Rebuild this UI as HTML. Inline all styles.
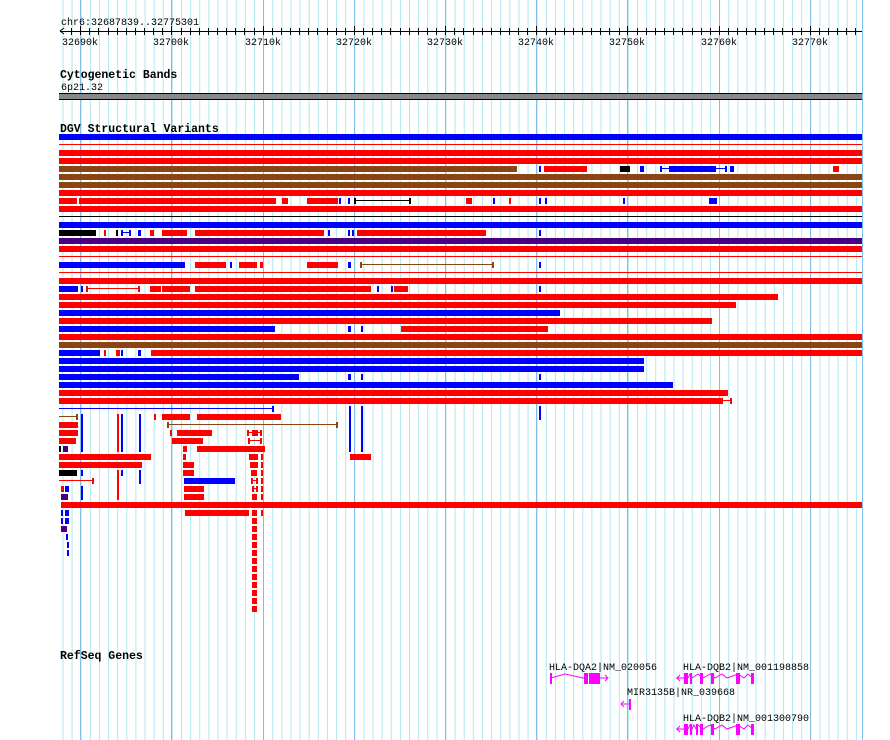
<!DOCTYPE html>
<html><head><meta charset="utf-8"><style>
body{margin:0;background:#fff;}
svg{display:block;}
text{font-family:"Liberation Mono",monospace;font-size:10px;fill:#000;}
.b{font-weight:bold;font-size:11.5px;}
</style></head><body>
<svg width="890" height="740" xmlns="http://www.w3.org/2000/svg">
<defs><pattern id="g" x="62.46" y="0" width="9.12" height="740" patternUnits="userSpaceOnUse"><rect x="0" y="0" width="1" height="740" fill="#b0e8f0"/></pattern></defs>
<rect x="59" y="0" width="804" height="740" fill="url(#g)"/>
<g fill="#80c0e8">
<rect x="80" y="0" width="1" height="740"/><rect x="171" y="0" width="1" height="740"/><rect x="263" y="0" width="1" height="740"/><rect x="354" y="0" width="1" height="740"/><rect x="445" y="0" width="1" height="740"/><rect x="536" y="0" width="1" height="740"/><rect x="627" y="0" width="1" height="740"/><rect x="719" y="0" width="1" height="740"/><rect x="810" y="0" width="1" height="740"/><rect x="862" y="0" width="1" height="740"/>
</g>
<!-- ruler -->
<text x="61" y="25">chr6:32687839..32775301</text>
<rect x="60" y="31" width="802" height="1" fill="#000"/>
<path d="M60 31 L64 28 M60 31 L64 34" stroke="#000" fill="none"/>
<g fill="#000">
<rect x="71" y="28" width="1" height="7"/><rect x="80" y="26" width="1" height="9"/><rect x="89" y="28" width="1" height="7"/><rect x="98" y="28" width="1" height="7"/><rect x="108" y="28" width="1" height="7"/><rect x="117" y="28" width="1" height="7"/><rect x="126" y="28" width="1" height="7"/><rect x="135" y="28" width="1" height="7"/><rect x="144" y="28" width="1" height="7"/><rect x="153" y="28" width="1" height="7"/><rect x="162" y="28" width="1" height="7"/><rect x="171" y="26" width="1" height="9"/><rect x="181" y="28" width="1" height="7"/><rect x="190" y="28" width="1" height="7"/><rect x="199" y="28" width="1" height="7"/><rect x="208" y="28" width="1" height="7"/><rect x="217" y="28" width="1" height="7"/><rect x="226" y="28" width="1" height="7"/><rect x="235" y="28" width="1" height="7"/><rect x="244" y="28" width="1" height="7"/><rect x="254" y="28" width="1" height="7"/><rect x="263" y="26" width="1" height="9"/><rect x="272" y="28" width="1" height="7"/><rect x="281" y="28" width="1" height="7"/><rect x="290" y="28" width="1" height="7"/><rect x="299" y="28" width="1" height="7"/><rect x="308" y="28" width="1" height="7"/><rect x="317" y="28" width="1" height="7"/><rect x="327" y="28" width="1" height="7"/><rect x="336" y="28" width="1" height="7"/><rect x="345" y="28" width="1" height="7"/><rect x="354" y="26" width="1" height="9"/><rect x="363" y="28" width="1" height="7"/><rect x="372" y="28" width="1" height="7"/><rect x="381" y="28" width="1" height="7"/><rect x="390" y="28" width="1" height="7"/><rect x="400" y="28" width="1" height="7"/><rect x="409" y="28" width="1" height="7"/><rect x="418" y="28" width="1" height="7"/><rect x="427" y="28" width="1" height="7"/><rect x="436" y="28" width="1" height="7"/><rect x="445" y="26" width="1" height="9"/><rect x="454" y="28" width="1" height="7"/><rect x="463" y="28" width="1" height="7"/><rect x="473" y="28" width="1" height="7"/><rect x="482" y="28" width="1" height="7"/><rect x="491" y="28" width="1" height="7"/><rect x="500" y="28" width="1" height="7"/><rect x="509" y="28" width="1" height="7"/><rect x="518" y="28" width="1" height="7"/><rect x="527" y="28" width="1" height="7"/><rect x="536" y="26" width="1" height="9"/><rect x="546" y="28" width="1" height="7"/><rect x="555" y="28" width="1" height="7"/><rect x="564" y="28" width="1" height="7"/><rect x="573" y="28" width="1" height="7"/><rect x="582" y="28" width="1" height="7"/><rect x="591" y="28" width="1" height="7"/><rect x="600" y="28" width="1" height="7"/><rect x="609" y="28" width="1" height="7"/><rect x="619" y="28" width="1" height="7"/><rect x="627" y="26" width="1" height="9"/><rect x="637" y="28" width="1" height="7"/><rect x="646" y="28" width="1" height="7"/><rect x="655" y="28" width="1" height="7"/><rect x="664" y="28" width="1" height="7"/><rect x="673" y="28" width="1" height="7"/><rect x="682" y="28" width="1" height="7"/><rect x="692" y="28" width="1" height="7"/><rect x="701" y="28" width="1" height="7"/><rect x="710" y="28" width="1" height="7"/><rect x="719" y="26" width="1" height="9"/><rect x="728" y="28" width="1" height="7"/><rect x="737" y="28" width="1" height="7"/><rect x="746" y="28" width="1" height="7"/><rect x="755" y="28" width="1" height="7"/><rect x="764" y="28" width="1" height="7"/><rect x="773" y="28" width="1" height="7"/><rect x="782" y="28" width="1" height="7"/><rect x="792" y="28" width="1" height="7"/><rect x="801" y="28" width="1" height="7"/><rect x="810" y="26" width="1" height="9"/><rect x="819" y="28" width="1" height="7"/><rect x="828" y="28" width="1" height="7"/><rect x="837" y="28" width="1" height="7"/><rect x="846" y="28" width="1" height="7"/><rect x="855" y="28" width="1" height="7"/>
</g>
<g text-anchor="middle">
<text x="80" y="45">32690k</text><text x="171" y="45">32700k</text><text x="263" y="45">32710k</text><text x="354" y="45">32720k</text><text x="445" y="45">32730k</text><text x="536" y="45">32740k</text><text x="627" y="45">32750k</text><text x="719" y="45">32760k</text><text x="810" y="45">32770k</text>
</g>
<!-- cyto -->
<text class="b" x="60" y="78">Cytogenetic Bands</text>
<text x="61" y="90">6p21.32</text>
<rect x="59" y="93" width="803" height="7" fill="#888"/>
<rect x="59" y="93" width="803" height="1" fill="#000"/><rect x="59" y="99" width="803" height="1" fill="#000"/>
<text class="b" x="60" y="132">DGV Structural Variants</text>
<!-- rows -->
<g>
<rect x="59" y="134" width="803" height="6" fill="#00f"/>
<rect x="59" y="144" width="803" height="1" fill="#f00"/>
<rect x="59" y="150" width="803" height="6" fill="#f00"/>
<rect x="59" y="158" width="803" height="6" fill="#f00"/>
<rect x="59" y="166" width="458" height="6" fill="#8b4513"/>
<rect x="539" y="166" width="2" height="6" fill="#00f"/><rect x="544" y="166" width="43" height="6" fill="#f00"/><rect x="620" y="166" width="10" height="6" fill="#000"/><rect x="640" y="166" width="4" height="6" fill="#00f"/><rect x="660" y="166" width="2" height="6" fill="#00f"/><rect x="660" y="168" width="66" height="1" fill="#00f"/><rect x="669" y="166" width="47" height="6" fill="#00f"/><rect x="725" y="166" width="2" height="6" fill="#00f"/><rect x="730" y="166" width="4" height="6" fill="#00f"/><rect x="833" y="166" width="6" height="6" fill="#f00"/>
<rect x="59" y="174" width="803" height="6" fill="#8b4513"/>
<rect x="59" y="182" width="803" height="6" fill="#8b4513"/>
<rect x="59" y="190" width="803" height="6" fill="#f00"/>
<rect x="59" y="198" width="18" height="6" fill="#f00"/><rect x="79" y="198" width="197" height="6" fill="#f00"/><rect x="282" y="198" width="6" height="6" fill="#f00"/><rect x="307" y="198" width="31" height="6" fill="#f00"/><rect x="339" y="198" width="2" height="6" fill="#00f"/><rect x="348" y="198" width="2" height="6" fill="#00f"/><rect x="354" y="198" width="2" height="6" fill="#000"/><rect x="354" y="200" width="56" height="1" fill="#000"/><rect x="409" y="198" width="2" height="6" fill="#000"/><rect x="466" y="198" width="6" height="6" fill="#f00"/><rect x="493" y="198" width="2" height="6" fill="#00f"/><rect x="509" y="198" width="2" height="6" fill="#f00"/><rect x="539" y="198" width="2" height="6" fill="#00f"/><rect x="545" y="198" width="2" height="6" fill="#00f"/><rect x="623" y="198" width="2" height="6" fill="#00f"/><rect x="709" y="198" width="8" height="6" fill="#00f"/>
<rect x="59" y="206" width="803" height="6" fill="#f00"/>
<rect x="59" y="216" width="803" height="1" fill="#000"/>
<rect x="59" y="222" width="803" height="6" fill="#00f"/>
<rect x="59" y="230" width="37" height="6" fill="#000"/><rect x="104" y="230" width="2" height="6" fill="#f00"/><rect x="116" y="230" width="2" height="6" fill="#000"/><rect x="121" y="230" width="2" height="6" fill="#00f"/><rect x="121" y="232" width="10" height="1" fill="#00f"/><rect x="129" y="230" width="2" height="6" fill="#00f"/><rect x="138" y="230" width="3" height="6" fill="#00f"/><rect x="150" y="230" width="4" height="6" fill="#f00"/><rect x="162" y="230" width="25" height="6" fill="#f00"/><rect x="195" y="230" width="129" height="6" fill="#f00"/><rect x="328" y="230" width="2" height="6" fill="#00f"/><rect x="348" y="230" width="2" height="6" fill="#00f"/><rect x="352" y="230" width="2" height="6" fill="#00f"/><rect x="357" y="230" width="129" height="6" fill="#f00"/><rect x="539" y="230" width="2" height="6" fill="#00f"/>
<rect x="59" y="238" width="803" height="6" fill="#4b0082"/>
<rect x="59" y="246" width="803" height="6" fill="#f00"/>
<rect x="59" y="256" width="803" height="1" fill="#f00"/>
<rect x="59" y="262" width="126" height="6" fill="#00f"/><rect x="195" y="262" width="31" height="6" fill="#f00"/><rect x="230" y="262" width="2" height="6" fill="#00f"/><rect x="239" y="262" width="18" height="6" fill="#f00"/><rect x="260" y="262" width="3" height="6" fill="#f00"/><rect x="307" y="262" width="31" height="6" fill="#f00"/><rect x="348" y="262" width="3" height="6" fill="#00f"/><rect x="360" y="262" width="2" height="6" fill="#8b4513"/><rect x="360" y="264" width="133" height="1" fill="#8b4513"/><rect x="492" y="262" width="2" height="6" fill="#8b4513"/><rect x="539" y="262" width="2" height="6" fill="#00f"/>
<rect x="59" y="272" width="803" height="1" fill="#f00"/>
<rect x="59" y="278" width="803" height="6" fill="#f00"/>
<rect x="59" y="286" width="19" height="6" fill="#00f"/><rect x="81" y="286" width="2" height="6" fill="#00f"/><rect x="86" y="286" width="2" height="6" fill="#f00"/><rect x="86" y="288" width="53" height="1" fill="#f00"/><rect x="138" y="286" width="2" height="6" fill="#f00"/><rect x="150" y="286" width="11" height="6" fill="#f00"/><rect x="162" y="286" width="28" height="6" fill="#f00"/><rect x="195" y="286" width="176" height="6" fill="#f00"/><rect x="377" y="286" width="2" height="6" fill="#00f"/><rect x="391" y="286" width="2" height="6" fill="#00f"/><rect x="394" y="286" width="14" height="6" fill="#f00"/><rect x="539" y="286" width="2" height="6" fill="#00f"/>
<rect x="59" y="294" width="719" height="6" fill="#f00"/>
<rect x="59" y="302" width="677" height="6" fill="#f00"/>
<rect x="59" y="310" width="501" height="6" fill="#00f"/>
<rect x="59" y="318" width="653" height="6" fill="#f00"/>
<rect x="59" y="326" width="216" height="6" fill="#00f"/><rect x="348" y="326" width="3" height="6" fill="#00f"/><rect x="361" y="326" width="2" height="6" fill="#00f"/><rect x="401" y="326" width="147" height="6" fill="#f00"/>
<rect x="59" y="334" width="803" height="6" fill="#f00"/>
<rect x="59" y="342" width="803" height="6" fill="#8b4513"/>
<rect x="59" y="350" width="41" height="6" fill="#00f"/><rect x="104" y="350" width="2" height="6" fill="#f00"/><rect x="116" y="350" width="4" height="6" fill="#f00"/><rect x="121" y="350" width="2" height="6" fill="#00f"/><rect x="138" y="350" width="3" height="6" fill="#00f"/><rect x="151" y="350" width="711" height="6" fill="#f00"/>
<rect x="59" y="358" width="585" height="6" fill="#00f"/>
<rect x="59" y="366" width="585" height="6" fill="#00f"/>
<rect x="59" y="374" width="240" height="6" fill="#00f"/><rect x="348" y="374" width="3" height="6" fill="#00f"/><rect x="361" y="374" width="2" height="6" fill="#00f"/><rect x="539" y="374" width="2" height="6" fill="#00f"/>
<rect x="59" y="382" width="614" height="6" fill="#00f"/>
<rect x="59" y="390" width="669" height="6" fill="#f00"/>
<rect x="59" y="398" width="664" height="6" fill="#f00"/><rect x="722" y="400" width="9" height="1" fill="#f00"/><rect x="730" y="398" width="2" height="6" fill="#f00"/>
<rect x="59" y="408" width="213" height="1" fill="#00f"/><rect x="272" y="406" width="2" height="6" fill="#00f"/>
<rect x="539" y="406" width="2" height="14" fill="#00f"/>
<rect x="349" y="406" width="2" height="46" fill="#00f"/><rect x="361" y="406" width="2" height="46" fill="#00f"/>
</g>
<g>
<!-- r35 414 -->
<rect x="59" y="416" width="18" height="1" fill="#8b4513"/><rect x="76" y="414" width="2" height="6" fill="#8b4513"/>
<rect x="154" y="414" width="2" height="6" fill="#f00"/><rect x="162" y="414" width="28" height="6" fill="#f00"/><rect x="197" y="414" width="84" height="6" fill="#f00"/>
<!-- columns -->
<rect x="81" y="414" width="2" height="38" fill="#00f"/><rect x="81" y="470" width="2" height="6" fill="#00f"/><rect x="81" y="486" width="2" height="14" fill="#00f"/>
<rect x="117" y="414" width="2" height="38" fill="#f00"/><rect x="117" y="470" width="2" height="30" fill="#f00"/>
<rect x="121" y="414" width="2" height="38" fill="#00f"/><rect x="121" y="470" width="2" height="6" fill="#00f"/>
<rect x="139" y="414" width="2" height="38" fill="#00f"/><rect x="139" y="470" width="2" height="14" fill="#00f"/>
<!-- r36 422 -->
<rect x="59" y="422" width="19" height="6" fill="#f00"/><rect x="167" y="424" width="170" height="1" fill="#8b4513"/><rect x="167" y="422" width="2" height="6" fill="#8b4513"/><rect x="336" y="422" width="2" height="6" fill="#8b4513"/>
<!-- r37 430 -->
<rect x="59" y="430" width="19" height="6" fill="#f00"/><rect x="170" y="430" width="2" height="6" fill="#f00"/><rect x="177" y="430" width="35" height="6" fill="#f00"/><rect x="247" y="430" width="2" height="6" fill="#f00"/><rect x="249" y="432" width="11" height="1" fill="#f00"/><rect x="252" y="430" width="6" height="6" fill="#f00"/><rect x="260" y="430" width="2" height="6" fill="#f00"/>
<!-- r38 438 -->
<rect x="59" y="438" width="17" height="6" fill="#f00"/><rect x="172" y="438" width="31" height="6" fill="#f00"/><rect x="248" y="438" width="2" height="6" fill="#f00"/><rect x="248" y="440" width="13" height="1" fill="#f00"/><rect x="260" y="438" width="2" height="6" fill="#f00"/>
<!-- r39 446 -->
<rect x="59" y="446" width="2" height="6" fill="#000"/><rect x="63" y="446" width="5" height="6" fill="#4b0082"/><rect x="183" y="446" width="4" height="6" fill="#f00"/><rect x="197" y="446" width="68" height="6" fill="#f00"/>
<!-- r40 454 -->
<rect x="59" y="454" width="92" height="6" fill="#f00"/><rect x="183" y="454" width="3" height="6" fill="#f00"/><rect x="249" y="454" width="9" height="6" fill="#f00"/><rect x="261" y="454" width="2" height="6" fill="#f00"/><rect x="350" y="454" width="21" height="6" fill="#f00"/>
<!-- r41 462 -->
<rect x="59" y="462" width="83" height="6" fill="#f00"/><rect x="183" y="462" width="11" height="6" fill="#f00"/><rect x="250" y="462" width="8" height="6" fill="#f00"/><rect x="261" y="462" width="2" height="6" fill="#f00"/>
<!-- r42 470 -->
<rect x="59" y="470" width="18" height="6" fill="#000"/><rect x="183" y="470" width="11" height="6" fill="#f00"/><rect x="251" y="470" width="6" height="6" fill="#f00"/><rect x="261" y="470" width="2" height="6" fill="#f00"/>
<!-- r43 478 -->
<rect x="59" y="480" width="34" height="1" fill="#f00"/><rect x="92" y="478" width="2" height="6" fill="#f00"/><rect x="184" y="478" width="51" height="6" fill="#00f"/><rect x="251" y="478" width="2" height="6" fill="#f00"/><rect x="251" y="480" width="7" height="1" fill="#f00"/><rect x="256" y="478" width="2" height="6" fill="#f00"/><rect x="261" y="478" width="2" height="6" fill="#f00"/>
<!-- r44 486 -->
<rect x="61" y="486" width="3" height="6" fill="#f00"/><rect x="65" y="486" width="4" height="6" fill="#00f"/><rect x="184" y="486" width="20" height="6" fill="#f00"/><rect x="252" y="486" width="2" height="6" fill="#f00"/><rect x="252" y="488" width="6" height="1" fill="#f00"/><rect x="256" y="486" width="2" height="6" fill="#f00"/><rect x="261" y="486" width="2" height="6" fill="#f00"/>
<!-- r45 494 -->
<rect x="61" y="494" width="7" height="6" fill="#4b0082"/><rect x="184" y="494" width="20" height="6" fill="#f00"/><rect x="252" y="494" width="5" height="6" fill="#f00"/><rect x="261" y="494" width="2" height="6" fill="#f00"/>
<!-- r46 502 -->
<rect x="61" y="502" width="801" height="6" fill="#f00"/>
<!-- r47 510 -->
<rect x="61" y="510" width="2" height="6" fill="#00f"/><rect x="65" y="510" width="4" height="6" fill="#00f"/><rect x="185" y="510" width="64" height="6" fill="#f00"/><rect x="261" y="510" width="2" height="6" fill="#f00"/>
<rect x="61" y="518" width="2" height="6" fill="#00f"/><rect x="65" y="518" width="4" height="6" fill="#00f"/>
<rect x="61" y="526" width="6" height="6" fill="#4b0082"/>
<rect x="66" y="534" width="2" height="6" fill="#00f"/><rect x="67" y="542" width="2" height="6" fill="#00f"/><rect x="67" y="550" width="2" height="6" fill="#00f"/>
<!-- column 252 -->
<rect x="252" y="510" width="5" height="6" fill="#f00"/><rect x="252" y="518" width="5" height="6" fill="#f00"/><rect x="252" y="526" width="5" height="6" fill="#f00"/><rect x="252" y="534" width="5" height="6" fill="#f00"/><rect x="252" y="542" width="5" height="6" fill="#f00"/><rect x="252" y="550" width="5" height="6" fill="#f00"/><rect x="252" y="558" width="5" height="6" fill="#f00"/><rect x="252" y="566" width="5" height="6" fill="#f00"/><rect x="252" y="574" width="5" height="6" fill="#f00"/><rect x="252" y="582" width="5" height="6" fill="#f00"/><rect x="252" y="590" width="5" height="6" fill="#f00"/><rect x="252" y="598" width="5" height="6" fill="#f00"/><rect x="252" y="606" width="5" height="6" fill="#f00"/>
</g>
<!-- genes -->
<text class="b" x="60" y="659">RefSeq Genes</text>
<text x="549" y="670">HLA-DQA2|NM_020056</text>
<text x="683" y="670">HLA-DQB2|NM_001198858</text>
<text x="627" y="695">MIR3135B|NR_039668</text>
<text x="683" y="721">HLA-DQB2|NM_001300790</text>
<g fill="#f0f" stroke="none">
<rect x="550" y="673" width="2" height="11"/>
<polyline points="551,678 565,674 583,678 588,678" fill="none" stroke="#f0f"/>
<rect x="584" y="673" width="4" height="11"/><rect x="589" y="673" width="11" height="11"/>
<polyline points="600,678 608,678 M604,675" fill="none" stroke="#f0f"/>
<path d="M600 678 H608 M605 675 L608 678 L605 681" fill="none" stroke="#f0f"/>
<path d="M676 678 H684 M680 675 L677 678 L680 681" fill="none" stroke="#f0f"/>
<rect x="684" y="673" width="4" height="11"/><rect x="690" y="673" width="2" height="11"/>
<polyline points="688,678 690,674 692,678 698,674 703,678 710,674 715,678 722,674 727,678 738,674 744,678 748,674 753,678" fill="none" stroke="#f0f"/>
<rect x="700" y="673" width="3" height="11"/><rect x="711" y="673" width="3" height="11"/><rect x="736" y="673" width="4" height="11"/><rect x="751" y="673" width="3" height="11"/>
<path d="M621 704 H630 M624 701 L621 704 L624 707" fill="none" stroke="#f0f"/><rect x="629" y="699" width="2" height="11"/>
<path d="M676 729 H684 M680 726 L677 729 L680 732" fill="none" stroke="#f0f"/>
<rect x="684" y="724" width="4" height="11"/><rect x="690" y="724" width="2" height="11"/><rect x="696" y="724" width="2" height="11"/>
<polyline points="688,729 690,725 692,729 694,725 696,729 698,725 703,729 710,725 715,729 722,725 727,729 738,725 744,729 748,725 753,729" fill="none" stroke="#f0f"/>
<rect x="700" y="724" width="3" height="11"/><rect x="711" y="724" width="3" height="11"/><rect x="736" y="724" width="4" height="11"/><rect x="751" y="724" width="3" height="11"/>
</g>
</svg>
</body></html>
